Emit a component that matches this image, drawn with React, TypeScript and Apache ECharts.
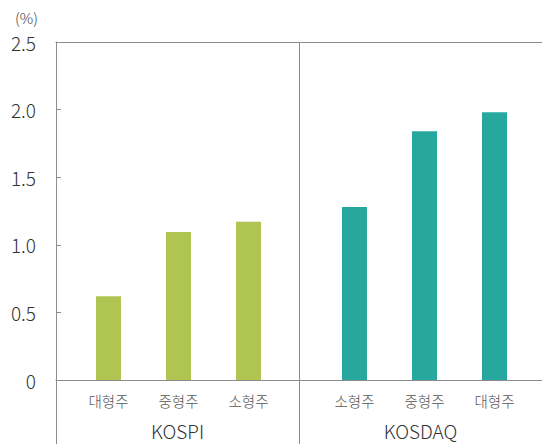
import React, { useEffect, useRef } from "react";
import * as echarts from "echarts";

const markets = ["KOSPI", "KOSDAQ"];
const kospiCats = ["대형주", "중형주", "소형주"];
const kospiVals = [0.62, 1.095, 1.17];
const kosdaqCats = ["소형주", "중형주", "대형주"];
const kosdaqVals = [1.28, 1.84, 1.98];
const yTicks = [0, 0.5, 1.0, 1.5, 2.0, 2.5];

const FONT = "'Noto Sans CJK KR', 'Noto Sans', sans-serif";
const LINE = "#8c8c8c";

export default function App() {
  const ref = useRef<HTMLDivElement>(null);
  useEffect(() => {
    document.body.style.margin = "0";
    if (!ref.current) return;
    const chart = echarts.init(ref.current, null, { renderer: "svg" });
    const yMin = yTicks[0];
    const yMax = yTicks[yTicks.length - 1];
    const interval = yTicks[1] - yTicks[0];
    const hiddenY = (gi: number) => ({
      type: "value",
      gridIndex: gi,
      min: yMin,
      max: yMax,
      interval,
      show: false,
    });
    const catX = (gi: number, cats: string[]) => ({
      type: "category",
      gridIndex: gi,
      data: cats,
      axisLine: { show: false },
      axisTick: { show: false },
      axisLabel: {
        margin: 11,
        fontSize: 14.5,
        lineHeight: 18,
        color: "#555",
        fontFamily: FONT,
        fontWeight: 300,
      },
    });
    chart.setOption({
      animation: false,
      title: {
        text: "(%)",
        left: 10,
        top: 5,
        textStyle: { fontSize: 15, fontWeight: 300, color: "#444", fontFamily: FONT },
      },
      grid: [
        { left: 56, right: -8, top: 42, bottom: 64 },
        { left: 73.5, width: 210, top: 42, bottom: 64 },
        { left: 319.5, width: 210, top: 42, bottom: 64 },
      ],
      xAxis: [
        {
          type: "category",
          gridIndex: 0,
          data: markets,
          position: "bottom",
          axisLine: { show: true, lineStyle: { color: LINE, width: 1 } },
          axisTick: { show: true, inside: false, length: 70, lineStyle: { color: LINE } },
          axisLabel: {
            margin: 40,
            fontSize: 19,
            lineHeight: 20,
            color: "#333",
            fontFamily: FONT,
            fontWeight: 300,
          },
          splitLine: { show: true, lineStyle: { color: LINE, width: 1 } },
        },
        {
          type: "category",
          gridIndex: 0,
          data: markets,
          position: "top",
          axisLine: { show: true, lineStyle: { color: LINE, width: 1 } },
          axisTick: { show: false },
          axisLabel: { show: false },
        },
        catX(1, kospiCats),
        catX(2, kosdaqCats),
      ],
      yAxis: [
        {
          type: "value",
          gridIndex: 0,
          min: yMin,
          max: yMax,
          interval,
          axisLine: { show: true, lineStyle: { color: LINE } },
          axisTick: { show: true, inside: true, length: 5, lineStyle: { color: LINE } },
          splitLine: { show: false },
          axisLabel: {
            margin: 20,
            fontSize: 19,
            color: "#333",
            fontFamily: FONT,
            fontWeight: 300,
            formatter: (v: number) => (v === 0 ? "0" : v.toFixed(1)),
          },
        },
        hiddenY(1),
        hiddenY(2),
      ],
      series: [
        {
          type: "bar",
          xAxisIndex: 2,
          yAxisIndex: 1,
          data: kospiVals,
          barWidth: 25,
          itemStyle: { color: "#b0c452" },
        },
        {
          type: "bar",
          xAxisIndex: 3,
          yAxisIndex: 2,
          data: kosdaqVals,
          barWidth: 25,
          itemStyle: { color: "#27a89e" },
        },
      ],
    });
    return () => chart.dispose();
  }, []);
  return <div ref={ref} style={{ width: 542, height: 444 }} />;
}
